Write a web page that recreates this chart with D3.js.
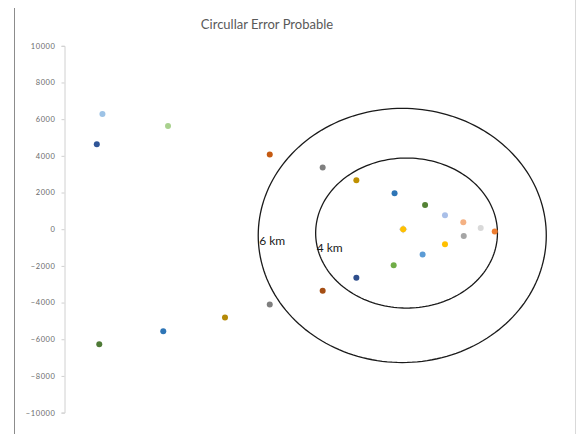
<!DOCTYPE html>
<html>
<head>
<meta charset="utf-8">
<script src="https://cdn.jsdelivr.net/npm/d3@7"></script>
<style>
  html, body { margin: 0; padding: 0; background: #fff; }
  svg { display: block; }
</style>
</head>
<body>
<svg id="chart" width="576" height="434"></svg>
<script>
// ---- data ----
const title = "Circullar Error Probable";
const yTicks = [10000, 8000, 6000, 4000, 2000, 0, -2000, -4000, -6000, -8000, -10000];
const pointX = [-13300, -10400, -13550, -5900, -3560, -2070, -380, 970, 1850, 2660, 3430, 4050, 2680, 1850, 860, -420, -2070, -3560, -5900, -7880, -10610, -13440, 0];
const pointY = [6280, 5630, 4630, 4070, 3360, 2670, 1960, 1320, 760, 380, 70, -130, -370, -820, -1380, -1960, -2650, -3350, -4110, -4820, -5560, -6270, 0];
const pointColors = ["#9DC3E6", "#A9D18E", "#2F5597", "#C55A11", "#7F7F7F", "#BF9000", "#2E75B6", "#548235", "#A9BFE8", "#F4B183", "#D9D9D9", "#ED7D31", "#A5A5A5", "#FFC000", "#5B9BD5", "#70AD47", "#2F4E8C", "#A54E14", "#7F7F7F", "#B58A07", "#2E75B6", "#4E7A36", "#FFC000"];
const ringLabels = ["6 km", "4 km"];
const ringCx = [-40, 150];
const ringCy = [-340, -210];
const ringRx = [6370, 4020];
const ringRy = [6930, 4090];
const ringLabelY = [-620, -1000];

// ---- layout ----
const svg = d3.select("#chart");
const x = d3.scaleLinear().domain([-15000, 7600]).range([64, 575]);
const y = d3.scaleLinear().domain([-10000, 10000]).range([412.6, 45.8]);

// frame lines
svg.append("line").attr("x1", 14.5).attr("x2", 14.5).attr("y1", 8).attr("y2", 434)
  .attr("stroke", "#8c8c8c").attr("stroke-width", 1);
svg.append("line").attr("x1", 575.5).attr("x2", 575.5).attr("y1", 0).attr("y2", 434)
  .attr("stroke", "#d9d9d9").attr("stroke-width", 1);

// title
svg.append("text").attr("x", 267).attr("y", 29).attr("text-anchor", "middle")
  .attr("font-family", "Lato, 'Open Sans', sans-serif").attr("font-size", 13)
  .attr("fill", "#595959").text(title);

// y axis
const yAxis = d3.axisLeft(y).tickValues(yTicks).tickSize(3).tickPadding(6).tickFormat(d3.format("d"));
const ga = svg.append("g").attr("transform", "translate(64.5,0)").call(yAxis);
ga.select(".domain").attr("stroke", "#d0d0d0");
ga.selectAll(".tick line").attr("stroke", "#d0d0d0");
ga.selectAll(".tick text").attr("fill", "#6a6a6a")
  .attr("font-family", "Lato, 'Open Sans', sans-serif").attr("font-size", 7.5)
  .attr("letter-spacing", 0.6);

// rings
const ringIdx = d3.range(ringLabels.length);
const line = d3.line().x(d => x(d[0])).y(d => y(d[1])).curve(d3.curveLinearClosed);
svg.append("g").selectAll("path").data(ringIdx).join("path")
  .attr("d", i => line(d3.range(0, 360, 2).map(a => {
    const t = a * Math.PI / 180;
    return [ringCx[i] + ringRx[i] * Math.cos(t), ringCy[i] + ringRy[i] * Math.sin(t)];
  })))
  .attr("fill", "none").attr("stroke", "#1a1a1a").attr("stroke-width", 1.3);

svg.append("g").selectAll("text").data(ringIdx).join("text")
  .attr("x", i => x(ringCx[i] - ringRx[i]) + 1)
  .attr("y", i => y(ringLabelY[i]) + 4)
  .attr("font-family", "Lato, 'Open Sans', sans-serif").attr("font-size", 12)
  .attr("fill", "#1a1a1a").text(i => ringLabels[i]);

// center diamond marker behind
svg.append("path")
  .attr("d", d3.symbol().type(d3.symbolSquare).size(36)())
  .attr("transform", `translate(${x(0)},${y(0)}) rotate(45)`)
  .attr("fill", "#D0D0D0");

// points
const idx = d3.range(pointX.length);
svg.append("g").selectAll("circle").data(idx).join("circle")
  .attr("cx", i => x(pointX[i])).attr("cy", i => y(pointY[i]))
  .attr("r", 3).attr("fill", i => pointColors[i]);
</script>
</body>
</html>
